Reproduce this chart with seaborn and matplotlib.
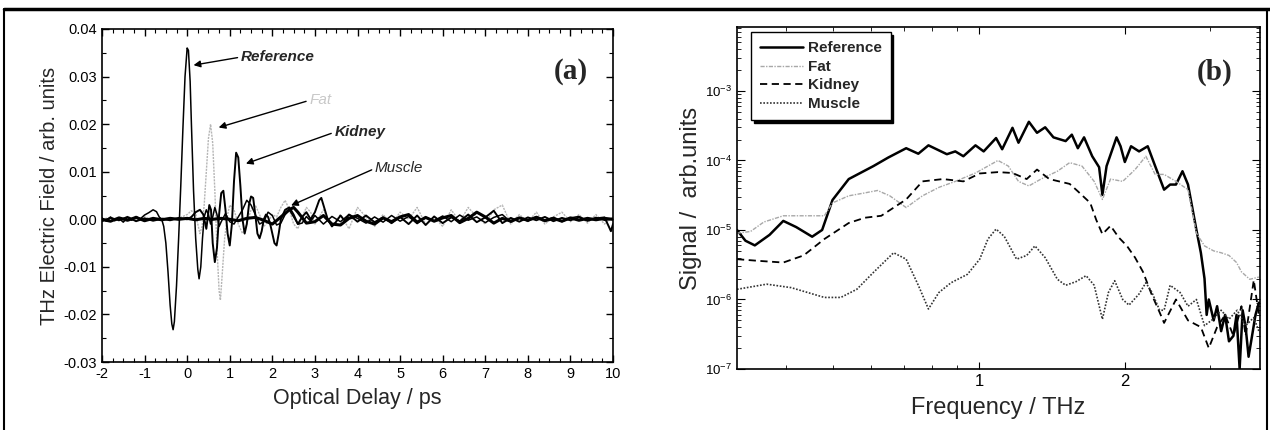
import numpy as np
import matplotlib
matplotlib.use("Agg")
import matplotlib.pyplot as plt
import seaborn as sns
from matplotlib.ticker import MultipleLocator, FixedLocator, NullFormatter, LogLocator, LogFormatterMathtext, FuncFormatter
from matplotlib.lines import Line2D

# ---- (a) time-domain pulses ----
ref_t = [-2.0, -1.9, -1.8, -1.7, -1.6, -1.5, -1.4, -1.3, -1.2, -1.1, -1.0, -0.9, -0.8, -0.72, -0.65, -0.6, -0.55,
         -0.5, -0.45, -0.4, -0.36, -0.33, -0.3, -0.25, -0.2, -0.15, -0.1, -0.05, 0.0, 0.03, 0.07, 0.1, 0.15, 0.2,
         0.25, 0.28, 0.32, 0.36, 0.4, 0.45, 0.5, 0.55, 0.6, 0.65, 0.7, 0.75, 0.8, 0.9, 1.0, 1.1, 1.2, 1.3, 1.4,
         1.5, 1.6, 1.7, 1.8, 1.9, 2.0, 2.1, 2.2, 2.3, 2.4, 2.5, 2.6, 2.7, 2.8, 2.9, 3.0, 3.2, 3.4, 3.6, 3.8, 4.0,
         4.2, 4.4, 4.6, 4.8, 5.0, 5.2, 5.4, 5.6, 5.8, 6.0, 6.2, 6.4, 6.6, 6.8, 7.0, 7.2, 7.4, 7.6, 7.8, 8.0, 8.2,
         8.4, 8.6, 8.8, 9.0, 9.2, 9.4, 9.6, 9.8, 10.0]
ref_v = [0.0003, -0.0004, 0.0005, -0.0003, 0.0002, -0.0006, 0.0004, -0.0002, 0.0006, 0.0001, 0.0009, 0.0014, 0.0020,
         0.0016, 0.0004, 0.0001, -0.0015, -0.0050, -0.0110, -0.0180, -0.0220, -0.0232, -0.0215, -0.0140, -0.0040,
         0.0070, 0.0190, 0.0300, 0.0360, 0.0355, 0.0290, 0.0200, 0.0060, -0.0040, -0.0105, -0.0125, -0.0100,
         -0.0040, 0.0005, 0.0020, 0.0010, -0.0010, 0.0005, 0.0025, 0.0010, -0.0015, -0.0005, 0.0012, -0.0005,
         -0.0010, 0.0005, 0.0020, 0.0040, 0.0030, 0.0010, -0.0010, -0.0005, 0.0015, 0.0008, -0.0012, -0.0008,
         0.0010, 0.0020, 0.0005, -0.0010, -0.0008, 0.0006, -0.0004, 0.0008, -0.0010, 0.0006, -0.0005, 0.0010,
         0.0002, -0.0008, 0.0005, -0.0006, 0.0008, -0.0004, 0.0006, -0.0009, 0.0004, -0.0003, 0.0007, -0.0005,
         0.0009, -0.0002, 0.0005, -0.0007, 0.0004, 0.0010, -0.0006, 0.0003, -0.0004, 0.0006, -0.0002, 0.0004,
         -0.0005, 0.0003, 0.0006, -0.0003, 0.0004, -0.0002, 0.0001]

fat_t = [-2.0, -1.8, -1.6, -1.4, -1.2, -1.0, -0.8, -0.6, -0.4, -0.2, 0.0, 0.1, 0.2, 0.25, 0.3, 0.35, 0.4, 0.45, 0.5,
         0.55, 0.6, 0.65, 0.7, 0.75, 0.78, 0.82, 0.88, 0.95, 1.0, 1.1, 1.2, 1.3, 1.4, 1.5, 1.6, 1.7, 1.8, 1.9, 2.0,
         2.1, 2.2, 2.3, 2.4, 2.5, 2.6, 2.7, 2.8, 2.9, 3.0, 3.2, 3.4, 3.6, 3.8, 4.0, 4.2, 4.4, 4.6, 4.8, 5.0, 5.2,
         5.4, 5.6, 5.8, 6.0, 6.2, 6.4, 6.6, 6.8, 7.0, 7.2, 7.4, 7.6, 7.8, 8.0, 8.2, 8.4, 8.6, 8.8, 9.0, 9.2, 9.4,
         9.6, 9.8, 10.0]
fat_v = [0.0, 0.0004, -0.0003, 0.0006, -0.0002, 0.0005, 0.0, 0.0004, -0.0003, 0.0002, 0.0010, 0.0018, 0.0012,
         -0.0010, -0.0030, -0.0015, 0.0030, 0.0100, 0.0170, 0.0200, 0.0160, 0.0060, -0.0060, -0.0150, -0.0170,
         -0.0120, -0.0040, 0.0010, 0.0030, 0.0020, -0.0010, -0.0030, -0.0010, 0.0020, 0.0030, 0.0010, -0.0015,
         -0.0005, 0.0010, 0.0005, 0.0025, 0.0040, 0.0020, -0.0010, -0.0020, 0.0005, 0.0025, 0.0015, -0.0010,
         0.0020, -0.0015, 0.0010, -0.0020, 0.0025, 0.0005, -0.0015, 0.0010, -0.0010, 0.0015, 0.0000, 0.0025,
         -0.0010, 0.0005, -0.0015, 0.0020, -0.0005, 0.0025, 0.0005, -0.0010, 0.0020, 0.0030, -0.0010, 0.0010,
         -0.0005, 0.0015, -0.0010, 0.0005, 0.0015, -0.0005, 0.0010, -0.0008, 0.0010, -0.0010, 0.0005]

kid_t = [-2.0, -1.8, -1.6, -1.4, -1.2, -1.0, -0.8, -0.6, -0.4, -0.2, 0.0, 0.1, 0.2, 0.3, 0.38, 0.45, 0.52, 0.56,
         0.6, 0.65, 0.7, 0.75, 0.8, 0.85, 0.9, 0.95, 1.0, 1.05, 1.1, 1.15, 1.2, 1.25, 1.3, 1.35, 1.4, 1.45, 1.5,
         1.55, 1.6, 1.65, 1.7, 1.75, 1.8, 1.85, 1.9, 1.95, 2.0, 2.05, 2.1, 2.15, 2.2, 2.3, 2.4, 2.5, 2.6, 2.7, 2.8,
         2.9, 3.0, 3.1, 3.15, 3.2, 3.3, 3.4, 3.5, 3.6, 3.7, 3.8, 4.0, 4.2, 4.4, 4.6, 4.8, 5.0, 5.2, 5.4, 5.6, 5.8,
         6.0, 6.2, 6.4, 6.6, 6.8, 7.0, 7.2, 7.4, 7.6, 7.8, 8.0, 8.2, 8.4, 8.6, 8.8, 9.0, 9.2, 9.4, 9.6, 9.8, 9.9,
         9.95, 10.0]
kid_v = [-0.0004, 0.0003, -0.0002, 0.0005, -0.0004, 0.0002, -0.0003, 0.0001, -0.0002, 0.0003, 0.0000, 0.0005,
         0.0015, 0.0020, 0.0010, -0.0020, 0.0030, 0.0020, -0.0050, -0.0090, -0.0060, 0.0010, 0.0055, 0.0060,
         0.0020, -0.0030, -0.0055, -0.0010, 0.0080, 0.0140, 0.0130, 0.0070, 0.0000, -0.0030, -0.0010, 0.0030,
         0.0048, 0.0045, 0.0010, -0.0030, -0.0040, -0.0025, 0.0000, 0.0010, 0.0005, -0.0010, -0.0030, -0.0050,
         -0.0055, -0.0030, 0.0000, 0.0020, 0.0025, 0.0010, -0.0010, 0.0005, 0.0015, 0.0000, 0.0015, 0.0040,
         0.0045, 0.0030, 0.0000, -0.0015, -0.0005, 0.0008, -0.0003, 0.0010, -0.0005, 0.0008, -0.0006, 0.0004,
         -0.0008, 0.0005, -0.0010, 0.0008, -0.0012, 0.0006, -0.0008, 0.0004, -0.0004, 0.0010, -0.0006, 0.0004,
         0.0018, -0.0008, 0.0003, -0.0005, 0.0004, -0.0002, 0.0005, -0.0004, 0.0003, -0.0002, 0.0004, -0.0003,
         0.0002, 0.0004, -0.0015, -0.0025, -0.0010]

mus_t = [-2.0, -1.8, -1.6, -1.4, -1.2, -1.0, -0.8, -0.6, -0.4, -0.2, 0.0, 0.2, 0.4, 0.6, 0.8, 1.0, 1.2, 1.4, 1.6,
         1.8, 2.0, 2.2, 2.4, 2.5, 2.6, 2.8, 3.0, 3.2, 3.4, 3.6, 3.8, 4.0, 4.2, 4.4, 4.6, 4.8, 5.0, 5.2, 5.4, 5.6,
         5.8, 6.0, 6.2, 6.4, 6.6, 6.8, 7.0, 7.2, 7.4, 7.6, 7.8, 8.0, 8.2, 8.4, 8.6, 8.8, 9.0, 9.2, 9.4, 9.6, 9.8,
         10.0]
mus_v = [0.0000, -0.0004, 0.0003, -0.0002, 0.0004, -0.0003, 0.0002, -0.0001, 0.0002, 0.0000, 0.0002, -0.0001,
         0.0002, 0.0000, 0.0002, 0.0000, -0.0003, 0.0002, 0.0004, -0.0002, -0.0010, 0.0005, 0.0020, 0.0025,
         0.0015, -0.0008, -0.0005, 0.0008, -0.0010, -0.0012, 0.0002, 0.0008, -0.0004, -0.0010, 0.0003, -0.0005,
         0.0005, 0.0010, -0.0006, 0.0004, -0.0004, 0.0003, 0.0008, -0.0007, 0.0002, 0.0015, 0.0005, -0.0008,
         0.0002, -0.0004, 0.0003, -0.0002, 0.0004, -0.0003, 0.0002, -0.0004, 0.0003, -0.0002, 0.0002, -0.0001,
         0.0002, 0.0000]

# ---- (b) spectra ----
ref_f = [0.317, 0.33, 0.345, 0.37, 0.395, 0.42, 0.453, 0.475, 0.499, 0.539, 0.606, 0.65, 0.708, 0.75, 0.787,
         0.859, 0.894, 0.929, 0.984, 1.023, 1.085, 1.117, 1.173, 1.207, 1.268, 1.318, 1.37, 1.425, 1.51, 1.555,
         1.6, 1.648, 1.713, 1.77, 1.798, 1.834, 1.923, 1.96, 2.0, 2.06, 2.14, 2.23, 2.31, 2.41, 2.48, 2.55, 2.63,
         2.7, 2.81, 2.87, 2.92, 2.95, 2.98, 3.05, 3.1, 3.16, 3.22, 3.28, 3.35, 3.4, 3.45, 3.5, 3.55, 3.6, 3.66,
         3.72, 3.78]
ref_s = [1.0e-5, 7e-6, 6e-6, 8.5e-6, 1.35e-5, 1.1e-5, 8e-6, 1.0e-5, 2.7e-5, 5.4e-5, 8.3e-5, 1.1e-4, 1.5e-4,
         1.25e-4, 1.65e-4, 1.23e-4, 1.35e-4, 1.15e-4, 1.65e-4, 1.35e-4, 2.1e-4, 1.45e-4, 2.95e-4, 1.8e-4, 3.6e-4,
         2.5e-4, 3.0e-4, 2.15e-4, 1.9e-4, 2.35e-4, 1.5e-4, 2.15e-4, 1.15e-4, 8e-5, 3.2e-5, 8.3e-5, 2.15e-4, 1.6e-4,
         9.5e-5, 1.6e-4, 1.35e-4, 1.6e-4, 8.3e-5, 3.8e-5, 4.5e-5, 4.5e-5, 7e-5, 4.5e-5, 1.0e-5, 4.7e-6, 2e-6,
         6e-7, 1.0e-6, 5e-7, 8e-7, 3.5e-7, 6e-7, 2.5e-7, 3e-7, 6e-7, 1.0e-7, 7e-7, 4e-7, 1.5e-7, 3e-7, 6e-7, 9e-7]

fat_f = [0.317, 0.338, 0.36, 0.395, 0.48, 0.499, 0.539, 0.58, 0.618, 0.655, 0.708, 0.765, 0.827, 0.894, 0.984,
         1.044, 1.095, 1.15, 1.207, 1.268, 1.343, 1.452, 1.539, 1.632, 1.729, 1.798, 1.869, 1.98, 2.1, 2.21, 2.31,
         2.41, 2.55, 2.7, 2.81, 2.92, 3.05, 3.16, 3.28, 3.4, 3.48, 3.62, 3.78]
fat_s = [9e-6, 9.5e-6, 1.3e-5, 1.6e-5, 1.6e-5, 2.45e-5, 3.1e-5, 3.4e-5, 3.7e-5, 3.1e-5, 2.1e-5, 3.1e-5, 4.1e-5,
         5e-5, 6.6e-5, 8.3e-5, 1.0e-4, 8.3e-5, 5e-5, 4.3e-5, 5.4e-5, 7e-5, 9.3e-5, 8.3e-5, 5e-5, 2.75e-5, 5.4e-5,
         5e-5, 7.4e-5, 1.15e-4, 6.3e-5, 6.3e-5, 5e-5, 3.8e-5, 9e-6, 5.9e-6, 5e-6, 4.7e-6, 4.3e-6, 3.4e-6, 2.5e-6,
         1.95e-6, 2.1e-6]

kid_f = [0.317, 0.35, 0.395, 0.435, 0.48, 0.539, 0.582, 0.629, 0.708, 0.765, 0.843, 0.929, 1.004, 1.095, 1.173,
         1.255, 1.318, 1.397, 1.539, 1.6, 1.697, 1.746, 1.798, 1.869, 1.943, 2.02, 2.1, 2.18, 2.27, 2.36, 2.41,
         2.55, 2.7, 2.87, 2.98, 3.1, 3.22, 3.35, 3.48, 3.55, 3.69, 3.78]
kid_s = [3.8e-6, 3.6e-6, 3.4e-6, 4.3e-6, 7.4e-6, 1.26e-5, 1.5e-5, 1.6e-5, 2.75e-5, 5e-5, 5.4e-5, 5e-5, 6.5e-5,
         6.8e-5, 6.6e-5, 5.4e-5, 7.4e-5, 5.4e-5, 4.6e-5, 3.6e-5, 2.45e-5, 1.4e-5, 8.7e-6, 1.15e-5, 7.8e-6, 5.9e-6,
         4e-6, 2.5e-6, 1.2e-6, 6.5e-7, 4.6e-7, 1.0e-6, 5e-7, 4e-7, 2e-7, 4e-7, 6e-7, 3e-7, 8e-7, 3e-7, 1.9e-6, 6e-7]

mus_f = [0.317, 0.365, 0.41, 0.48, 0.519, 0.56, 0.606, 0.667, 0.708, 0.75, 0.787, 0.827, 0.876, 0.947, 1.004,
         1.044, 1.085, 1.128, 1.196, 1.255, 1.305, 1.37, 1.452, 1.51, 1.585, 1.664, 1.729, 1.798, 1.85, 1.906,
         1.98, 2.04, 2.14, 2.21, 2.27, 2.36, 2.41, 2.48, 2.6, 2.7, 2.81, 2.92, 3.04, 3.16, 3.28, 3.41, 3.55, 3.69,
         3.78]
mus_s = [1.4e-6, 1.66e-6, 1.48e-6, 1.07e-6, 1.07e-6, 1.4e-6, 2.45e-6, 4.7e-6, 3.8e-6, 1.6e-6, 7.3e-7, 1.26e-6,
         1.74e-6, 2.3e-6, 3.8e-6, 7.4e-6, 1.03e-5, 8.1e-6, 3.8e-6, 4.3e-6, 5.9e-6, 4e-6, 1.95e-6, 1.6e-6, 1.8e-6,
         2.2e-6, 1.6e-6, 5.2e-7, 1.26e-6, 1.86e-6, 1.0e-6, 8.3e-7, 1.2e-6, 1.74e-6, 1.3e-6, 7e-7, 7e-7, 1.6e-6,
         1.26e-6, 8e-7, 1.0e-6, 4.2e-7, 5.2e-7, 7e-7, 5.2e-7, 7e-7, 4.2e-7, 5.5e-7, 3.5e-7]

sns.set_style("ticks")
plt.rcParams["font.family"] = ["Liberation Sans", "DejaVu Sans"]
plt.rcParams["axes.unicode_minus"] = False
plt.rcParams["mathtext.fontset"] = "custom"
plt.rcParams["mathtext.rm"] = "Liberation Sans"

fig = plt.figure(figsize=(12.7, 4.3), dpi=100)
fig.patch.set_facecolor("white")

# page frame
fig.add_artist(Line2D([0.003, 1.0], [0.979, 0.979], color="black", lw=2.5, transform=fig.transFigure))
fig.add_artist(Line2D([0.003, 0.003], [0.0, 0.979], color="black", lw=1.5, transform=fig.transFigure))
fig.add_artist(Line2D([0.998, 0.998], [0.0, 0.979], color="black", lw=1.5, transform=fig.transFigure))

# ---------------- panel (a) ----------------
ax1 = fig.add_axes([0.0803, 0.158, 0.4024, 0.7746])
sns.lineplot(x=fat_t, y=fat_v, ax=ax1, color="#b5b5b5", lw=1.0, linestyle=(0, (1.5, 0.8)), sort=False, estimator=None)
sns.lineplot(x=ref_t, y=ref_v, ax=ax1, color="black", lw=1.1, sort=False, estimator=None)
sns.lineplot(x=kid_t, y=kid_v, ax=ax1, color="black", lw=1.4, sort=False, estimator=None)
sns.lineplot(x=mus_t, y=mus_v, ax=ax1, color="black", lw=2.2, sort=False, estimator=None)

ax1.set_xlim(-2, 10)
ax1.set_ylim(-0.03, 0.04)
ax1.xaxis.set_major_locator(MultipleLocator(1))
ax1.xaxis.set_minor_locator(MultipleLocator(0.25))
ax1.yaxis.set_major_locator(MultipleLocator(0.01))
ax1.yaxis.set_minor_locator(MultipleLocator(0.005))
ax1.yaxis.set_major_formatter(FuncFormatter(lambda v, p: f"{v:.2f}"))
ax1.xaxis.set_major_formatter(FuncFormatter(lambda v, p: f"{v:.0f}"))
ax1.tick_params(which="both", direction="in", top=True, right=True, labelsize=10.5, colors="black")
ax1.tick_params(which="major", length=5, width=1)
ax1.tick_params(which="minor", length=3, width=0.8)
for s in ax1.spines.values():
    s.set_linewidth(1.2)
    s.set_color("black")
ax1.set_xlabel("Optical Delay / ps", fontsize=15.5, labelpad=5)
ax1.set_ylabel("THz Electric Field / arb. units", fontsize=14.5, labelpad=3)

arrow = dict(arrowstyle="-|>", color="black", lw=1.0, shrinkA=0, shrinkB=0, mutation_scale=10, relpos=(0, 0.5))
ax1.annotate("Reference", xy=(0.15, 0.0324), xytext=(1.26, 0.0341), fontsize=11, fontweight="bold",
             style="italic", va="center", arrowprops=arrow)
ax1.annotate("Fat", xy=(0.74, 0.0193), xytext=(2.87, 0.025), fontsize=11, color="#c8c8c8",
             style="italic", va="center", arrowprops=arrow)
ax1.annotate("Kidney", xy=(1.38, 0.0117), xytext=(3.46, 0.0183), fontsize=11, fontweight="bold",
             style="italic", va="center", arrowprops=arrow)
ax1.annotate("Muscle", xy=(2.44, 0.0029), xytext=(4.41, 0.0107), fontsize=11,
             style="italic", va="center", arrowprops=arrow)
ax1.text(9.0, 0.031, "(a)", fontsize=21, fontweight="bold", family="Liberation Serif", ha="center", va="center")

# ---------------- panel (b) ----------------
ax2 = fig.add_axes([0.5803, 0.1419, 0.4118, 0.7953])
sns.lineplot(x=ref_f, y=ref_s, ax=ax2, color="black", lw=1.8, label="Reference", sort=False, estimator=None)
sns.lineplot(x=fat_f, y=fat_s, ax=ax2, color="#a8a8a8", lw=1.0, linestyle=(0, (3, 1, 1, 1)), label="Fat",
             sort=False, estimator=None)
sns.lineplot(x=kid_f, y=kid_s, ax=ax2, color="black", lw=1.3, linestyle=(0, (4, 2.5)), label="Kidney",
             sort=False, estimator=None)
sns.lineplot(x=mus_f, y=mus_s, ax=ax2, color="#333333", lw=1.2, linestyle=(0, (1, 1)), label="Muscle",
             sort=False, estimator=None)

ax2.set_xscale("log")
ax2.set_yscale("log")
ax2.set_xlim(0.317, 3.8)
ax2.set_ylim(1e-7, 10 ** -2.08)
ax2.xaxis.set_major_locator(FixedLocator([1, 2]))
ax2.xaxis.set_major_formatter(FuncFormatter(lambda v, p: f"{v:g}"))
ax2.xaxis.set_minor_locator(FixedLocator([0.4, 0.5, 0.6, 0.7, 0.8, 0.9, 3]))
ax2.xaxis.set_minor_formatter(NullFormatter())
ax2.yaxis.set_major_locator(LogLocator(base=10, numticks=10))
ax2.yaxis.set_minor_locator(LogLocator(base=10, subs=np.arange(2, 10), numticks=20))
ax2.yaxis.set_major_formatter(LogFormatterMathtext())
ax2.yaxis.set_minor_formatter(NullFormatter())
ax2.tick_params(which="both", direction="in", top=True, right=True, colors="black")
ax2.tick_params(axis="x", which="major", labelsize=12, length=5)
ax2.tick_params(axis="y", which="major", labelsize=9.5, length=6)
ax2.tick_params(which="minor", length=3)
for s in ax2.spines.values():
    s.set_linewidth(1.2)
    s.set_color("black")
ax2.set_xlabel("Frequency / THz", fontsize=17, labelpad=6)
ax2.set_ylabel("Signal /  arb.units", fontsize=17, labelpad=2)

leg = ax2.legend(loc="upper left", bbox_to_anchor=(0.027, 0.985), borderaxespad=0, frameon=True,
                 fancybox=False, edgecolor="black", framealpha=1,
                 shadow={"color": "black", "alpha": 1}, prop={"weight": "bold", "size": 11},
                 handlelength=2.8, labelspacing=0.3, borderpad=0.6, handletextpad=0.3)
leg.get_frame().set_linewidth(1.0)
ax2.text(0.914, 0.866, "(b)", transform=ax2.transAxes, fontsize=21, fontweight="bold",
         family="Liberation Serif", ha="center", va="center")

plt.savefig("out.png", dpi=100, facecolor="white")
